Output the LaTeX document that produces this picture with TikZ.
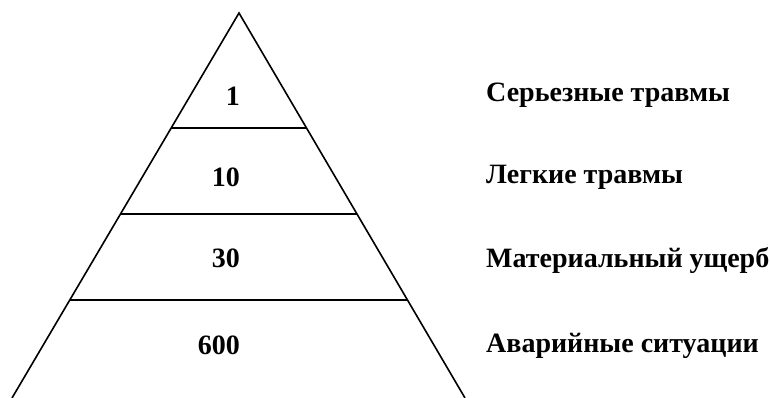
\documentclass[tikz,border=0pt]{standalone}
\usepackage{fontspec}
\setmainfont{Liberation Serif}
\usetikzlibrary{calc}
\begin{document}
\begin{tikzpicture}[x=1pt,y=-1pt,
  edge/.style={line width=1.6pt,black},
  num/.style={font=\bfseries\fontsize{28}{32}\selectfont,anchor=base east,inner sep=0pt},
  lab/.style={font=\bfseries\fontsize{28}{32}\selectfont,anchor=base west,inner sep=0pt}]
\useasboundingbox (0,0) rectangle (770,398);
\coordinate (top) at (239,13);
\coordinate (bl) at (12,398);
\coordinate (br) at (465,398);
\draw[edge,line join=miter] (bl) -- (top) -- (br);
\draw[edge] ($(top)!{115/385}!(bl)$) coordinate (l1) -- ($(top)!{115/385}!(br)$) coordinate (r1);
\draw[edge] ($(top)!{201/385}!(bl)$) coordinate (l2) -- ($(top)!{201/385}!(br)$) coordinate (r2);
\draw[edge] ($(top)!{287/385}!(bl)$) coordinate (l3) -- ($(top)!{287/385}!(br)$) coordinate (r3);
\node[num] (n1) at (240,106) {1};
\node[num] (n2) at (240,186) {10};
\node[num] (n3) at (240,267) {30};
\node[num] (n4) at (240,354) {600};
\node[lab] (t1) at (486,102) {Серьезные травмы};
\node[lab] (t2) at (486,183) {Легкие травмы};
\node[lab] (t3) at (486,267) {Материальный ущерб};
\node[lab] (t4) at (486,352) {Аварийные ситуации};
\end{tikzpicture}
\end{document}
